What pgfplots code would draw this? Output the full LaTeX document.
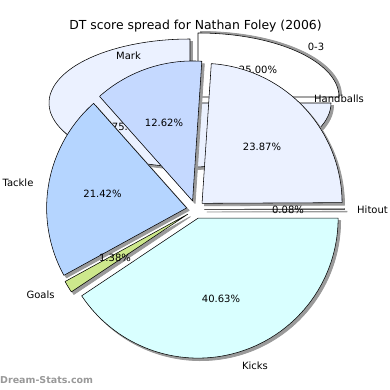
\documentclass[border=0pt]{standalone}
\usepackage{pgfplots}
\pgfplotsset{compat=1.18}
\usepackage{fontspec}
\setmainfont{DejaVu Sans}
\definecolor{cKicks}{HTML}{D9FFFF}
\definecolor{cHand}{HTML}{EBF1FF}
\definecolor{cMark}{HTML}{C5D9FF}
\definecolor{cTackle}{HTML}{B5D5FF}
\definecolor{cGoals}{HTML}{CDE88C}
\definecolor{cHitout}{HTML}{FFFFFF}
\definecolor{cBackA}{HTML}{FFFFFF}
\definecolor{cBackB}{HTML}{EBF1FF}
\definecolor{shade}{HTML}{9A9A9A}
% data (percent)
\def\pKicks{40.63}
\def\pGoals{1.38}
\def\pTackle{21.42}
\def\pMark{12.62}
\def\pHand{23.87}
\def\pHitout{0.08}
\def\pBackA{25.00}
\def\pBackB{75.00}
\newcommand\pieslice[7]{% cx cy rx ry a b style
  \edef\tmp{\noexpand\addplot[#7, domain=#5:#6, samples=90, line join=round] ({#1+#3*cos(x)},{#2+#4*sin(x)}) -- (axis cs:#1,#2) -- cycle;}%
  \tmp}
% front pie: centre (195.5,180.5), r=140, explode 9
\newcommand\frontslice[4]{% startpct pct color shadow(1)/slice(0)
  \pgfmathsetmacro\aA{-3.6*(#1)}%
  \pgfmathsetmacro\aB{-3.6*(#1+#2)}%
  \pgfmathsetmacro\am{(\aA+\aB)/2}%
  \ifnum#4=1
    \pgfmathsetmacro\ccx{195.5+9*cos(\am)+2.5}%
    \pgfmathsetmacro\ccy{180.5+9*sin(\am)-2.5}%
    \pieslice{\ccx}{\ccy}{140}{140}{\aB}{\aA}{fill=shade, draw=shade, line width=0.8pt}%
  \else
    \pgfmathsetmacro\ccx{195.5+9*cos(\am)}%
    \pgfmathsetmacro\ccy{180.5+9*sin(\am)}%
    \pieslice{\ccx}{\ccy}{140}{140}{\aB}{\aA}{fill=#3, draw=black, line width=0.55pt}%
  \fi}
\begin{document}
\begin{tikzpicture}
\begin{axis}[hide axis, scale only axis, width=390pt, height=390pt,
  xmin=0, xmax=390, ymin=0, ymax=390, clip=false]
\path[draw=none] (axis cs:0,0) rectangle (axis cs:390,390);
% ---- back pie (elliptic) ----
\pieslice{200.5}{294.5}{141}{64}{0}{90}{fill=shade, draw=shade, line width=0.8pt}
\pieslice{192.5}{284.5}{141}{64}{90}{360}{fill=shade, draw=shade, line width=0.8pt}
\pieslice{198}{293}{141}{64}{0}{90}{fill=cBackA, draw=black, line width=0.55pt}
\pieslice{190}{287}{141}{64}{90}{360}{fill=cBackB, draw=black, line width=0.55pt}
\begin{scope}[every node/.style={font=\fontsize{10}{12}\selectfont, inner sep=0pt}]
\node at (axis cs:316,343) {0-3};
\node at (axis cs:258,320) {25.00\%};
\node at (axis cs:131,263) {75.00\%};
\end{scope}
% ---- front pie ----
\frontslice{0}{\pKicks}{cKicks}{1}
\frontslice{40.63}{\pGoals}{cGoals}{1}
\frontslice{42.01}{\pTackle}{cTackle}{1}
\frontslice{63.43}{\pMark}{cMark}{1}
\frontslice{76.05}{\pHand}{cHand}{1}
\frontslice{99.92}{\pHitout}{cHitout}{1}
\frontslice{0}{\pKicks}{cKicks}{0}
\frontslice{40.63}{\pGoals}{cGoals}{0}
\frontslice{42.01}{\pTackle}{cTackle}{0}
\frontslice{63.43}{\pMark}{cMark}{0}
\frontslice{76.05}{\pHand}{cHand}{0}
\frontslice{99.92}{\pHitout}{cHitout}{0}
\begin{scope}[every node/.style={font=\fontsize{10}{12}\selectfont, inner sep=0pt}]
\node at (axis cs:195.5,364) {\fontsize{12.4}{14}\selectfont DT score spread for Nathan Foley (2006)};
\node at (axis cs:339,291) {Handballs};
\node at (axis cs:128.5,334) {Mark};
\node at (axis cs:164,267) {12.62\%};
\node at (axis cs:262,243) {23.87\%};
\node at (axis cs:18,207) {Tackle};
\node at (axis cs:102.5,196) {21.42\%};
\node at (axis cs:288,180) {0.08\%};
\node at (axis cs:372.5,180) {Hitout};
\node at (axis cs:115,132) {1.38\%};
\node at (axis cs:40.5,95) {Goals};
\node at (axis cs:221,91) {40.63\%};
\node at (axis cs:255,24) {Kicks};
\node[anchor=west, text=black!40, font=\fontsize{9.5}{11}\selectfont\bfseries] at (axis cs:0,10) {Dream-Stats.com};
\end{scope}
\end{axis}
\end{tikzpicture}
\end{document}
